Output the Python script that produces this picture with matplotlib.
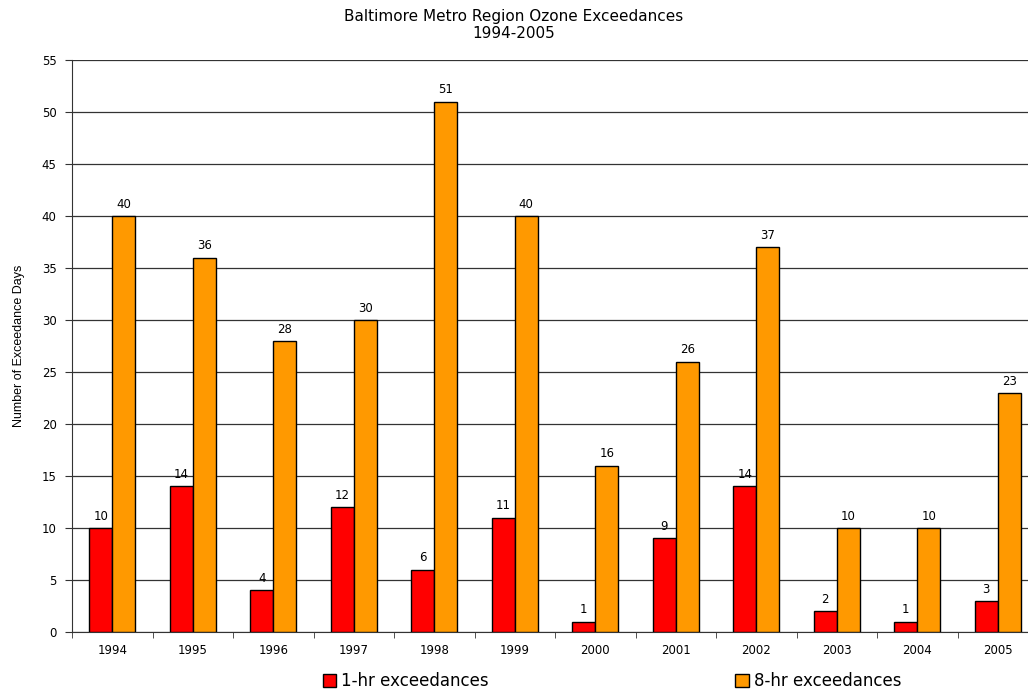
import matplotlib
matplotlib.use('Agg')
import matplotlib.pyplot as plt
import numpy as np

plt.rcParams.update({'font.family': 'DejaVu Sans', 'font.size': 9})

years = ['1994', '1995', '1996', '1997', '1998', '1999',
         '2000', '2001', '2002', '2003', '2004', '2005']
one_hr = [10, 14, 4, 12, 6, 11, 1, 9, 14, 2, 1, 3]
eight_hr = [40, 36, 28, 30, 51, 40, 16, 26, 37, 10, 10, 23]

RED = '#FF0000'
ORANGE = '#FF9900'

fig = plt.figure(figsize=(10.28, 6.9), dpi=100)
# plot area runs a little past the right edge of the canvas
ax = fig.add_axes([72/1028, 1 - 632/690, 966/1028, 572/690])

x = np.arange(len(years))
w = 0.286
b1 = ax.bar(x - w/2, one_hr, w, color=RED, edgecolor='black', linewidth=1.0,
            label='1-hr exceedances', zorder=3)
b2 = ax.bar(x + w/2, eight_hr, w, color=ORANGE, edgecolor='black', linewidth=1.0,
            label='8-hr exceedances', zorder=3)

for bars in (b1, b2):
    for b in bars:
        ax.text(b.get_x() + b.get_width()/2, b.get_height() + 0.5,
                f'{int(b.get_height())}', ha='center', va='bottom', fontsize=8.5)

ax.set_xlim(-0.5, len(years) - 0.5)
ax.set_ylim(0, 55)
ax.set_yticks(range(0, 56, 5))
ax.set_xticks(x)
ax.set_xticklabels(years, fontsize=8.5)
ax.set_xticks(np.arange(-0.5, len(years)), minor=True)
ax.tick_params(axis='x', which='major', length=0, pad=9)
ax.tick_params(axis='x', which='minor', length=4, direction='out', color='#333333')
ax.tick_params(axis='y', length=5, direction='out', color='#333333', labelsize=8.5, pad=6)

ax.yaxis.grid(True, color='#333333', linewidth=0.9, zorder=0)
ax.set_axisbelow(True)
for s in ('top', 'right'):
    ax.spines[s].set_visible(False)
ax.spines['left'].set_color('#333333')
ax.spines['bottom'].set_color('#333333')

ax.set_ylabel('Number of Exceedance Days', fontsize=9, labelpad=12,
              family='Liberation Sans')

fig.text(0.5, 1 - 16/690, 'Baltimore Metro Region Ozone Exceedances',
         ha='center', va='center', fontsize=11)
fig.text(0.5, 1 - 33/690, '1994-2005', ha='center', va='center', fontsize=11)

fig.legend(handles=[b1, b2], loc='center', bbox_to_anchor=(612/1028, 1 - 681/690),
           ncol=2, frameon=False, fontsize=12, handlelength=0.8, handleheight=0.8,
           handletextpad=0.3, columnspacing=14.8)

fig.savefig('out.png', dpi=100, facecolor='white')
